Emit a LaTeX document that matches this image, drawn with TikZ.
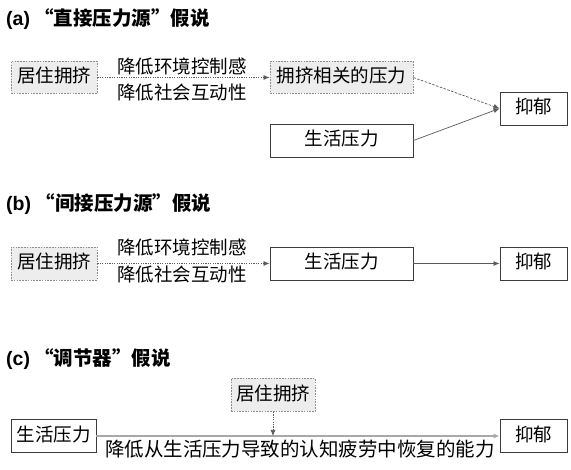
\documentclass[tikz,border=0pt]{standalone}
\usepackage{fontspec}
\setmainfont{Noto Sans CJK SC}
\newfontfamily\lat{Liberation Sans}
\usetikzlibrary{arrows.meta}
\definecolor{boxgray}{HTML}{3C3C3C}
\definecolor{dashgray}{HTML}{8C8C8C}
\definecolor{fillgray}{HTML}{EDEDED}
\definecolor{linegray}{HTML}{5A5A5A}
\definecolor{lightline}{HTML}{A8A8A8}
\begin{document}
\begin{tikzpicture}[x=1pt,y=-1pt,
  every node/.style={inner sep=0pt, font=\fontsize{18.5}{18.5}\selectfont, text height=1.1em, text depth=0em},
  solidbox/.style={draw=boxgray, fill=white, line width=0.9pt},
  dashbox/.style={draw=dashgray, fill=fillgray, dash pattern=on 1.6pt off 1.2pt, line width=0.9pt},
  titletext/.style={anchor=west, font=\fontsize{19.5}{19.5}\selectfont\bfseries},
  lbl/.style={},
  arr/.style={-{Latex[length=6pt,width=5pt]}, draw=linegray, line width=0.7pt},
  dotarr/.style={arr, dash pattern=on 1.2pt off 1.2pt},
  dasharr/.style={arr, dash pattern=on 2.5pt off 1.5pt},
]
\useasboundingbox (0,0) rectangle (571,470);
\fill[white] (0,0) rectangle (571,470);

% (a)
\node[titletext] (ta) at (6,20) {{\lat (a)} “直接压力源”假说};
\node[dashbox, minimum width=86pt, minimum height=32pt] (crowdA) at (54,77.5) {居住拥挤};
\node[lbl] (la1) at (182,68) {降低环境控制感};
\node[lbl] (la2) at (182,94) {降低社会互动性};
\node[dashbox, minimum width=143pt, minimum height=32pt] (pressA) at (341.5,77.5) {拥挤相关的压力};
\node[solidbox, minimum width=143pt, minimum height=33pt] (lifeA) at (341.5,140.5) {生活压力};
\node[solidbox, minimum width=67pt, minimum height=33pt] (depA) at (533.5,108.5) {抑郁};
\draw[dotarr] (crowdA.east) -- (pressA.west);
\draw[dasharr] (pressA.east) -- (depA.west);
\draw[arr] (lifeA.east) -- (depA.west);

% (b)
\node[titletext] (tb) at (6,205) {{\lat (b)} “间接压力源”假说};
\node[dashbox, minimum width=86pt, minimum height=33pt] (crowdB) at (54,263.5) {居住拥挤};
\node[lbl] (lb1) at (182,249.5) {降低环境控制感};
\node[lbl] (lb2) at (182,276) {降低社会互动性};
\node[solidbox, minimum width=143pt, minimum height=33pt] (lifeB) at (341.5,263.5) {生活压力};
\node[solidbox, minimum width=67pt, minimum height=33pt] (depB) at (533.5,263.5) {抑郁};
\draw[dotarr] (crowdB.east) -- (lifeB.west);
\draw[arr] (lifeB.east) -- (depB.west);

% (c)
\node[titletext] (tc) at (6,360) {{\lat (c)} “调节器”假说};
\node[dashbox, minimum width=84pt, minimum height=33pt] (crowdC) at (273,395) {居住拥挤};
\node[solidbox, minimum width=85pt, minimum height=33pt] (lifeC) at (53.5,436) {生活压力};
\node[solidbox, minimum width=67pt, minimum height=33pt] (depC) at (533.5,436) {抑郁};
\draw[-{Latex[length=6pt,width=5pt]}, draw=lightline, line width=1.5pt] (lifeC.east) -- (depC.west);
\coordinate (mid) at (crowdC.south |- lifeC.east);
\draw[dotarr] (crowdC.south) -- (mid);
\node[font=\fontsize{19.5}{19.5}\selectfont] (lc) at (300,451) {降低从生活压力导致的认知疲劳中恢复的能力};
\end{tikzpicture}
\end{document}
